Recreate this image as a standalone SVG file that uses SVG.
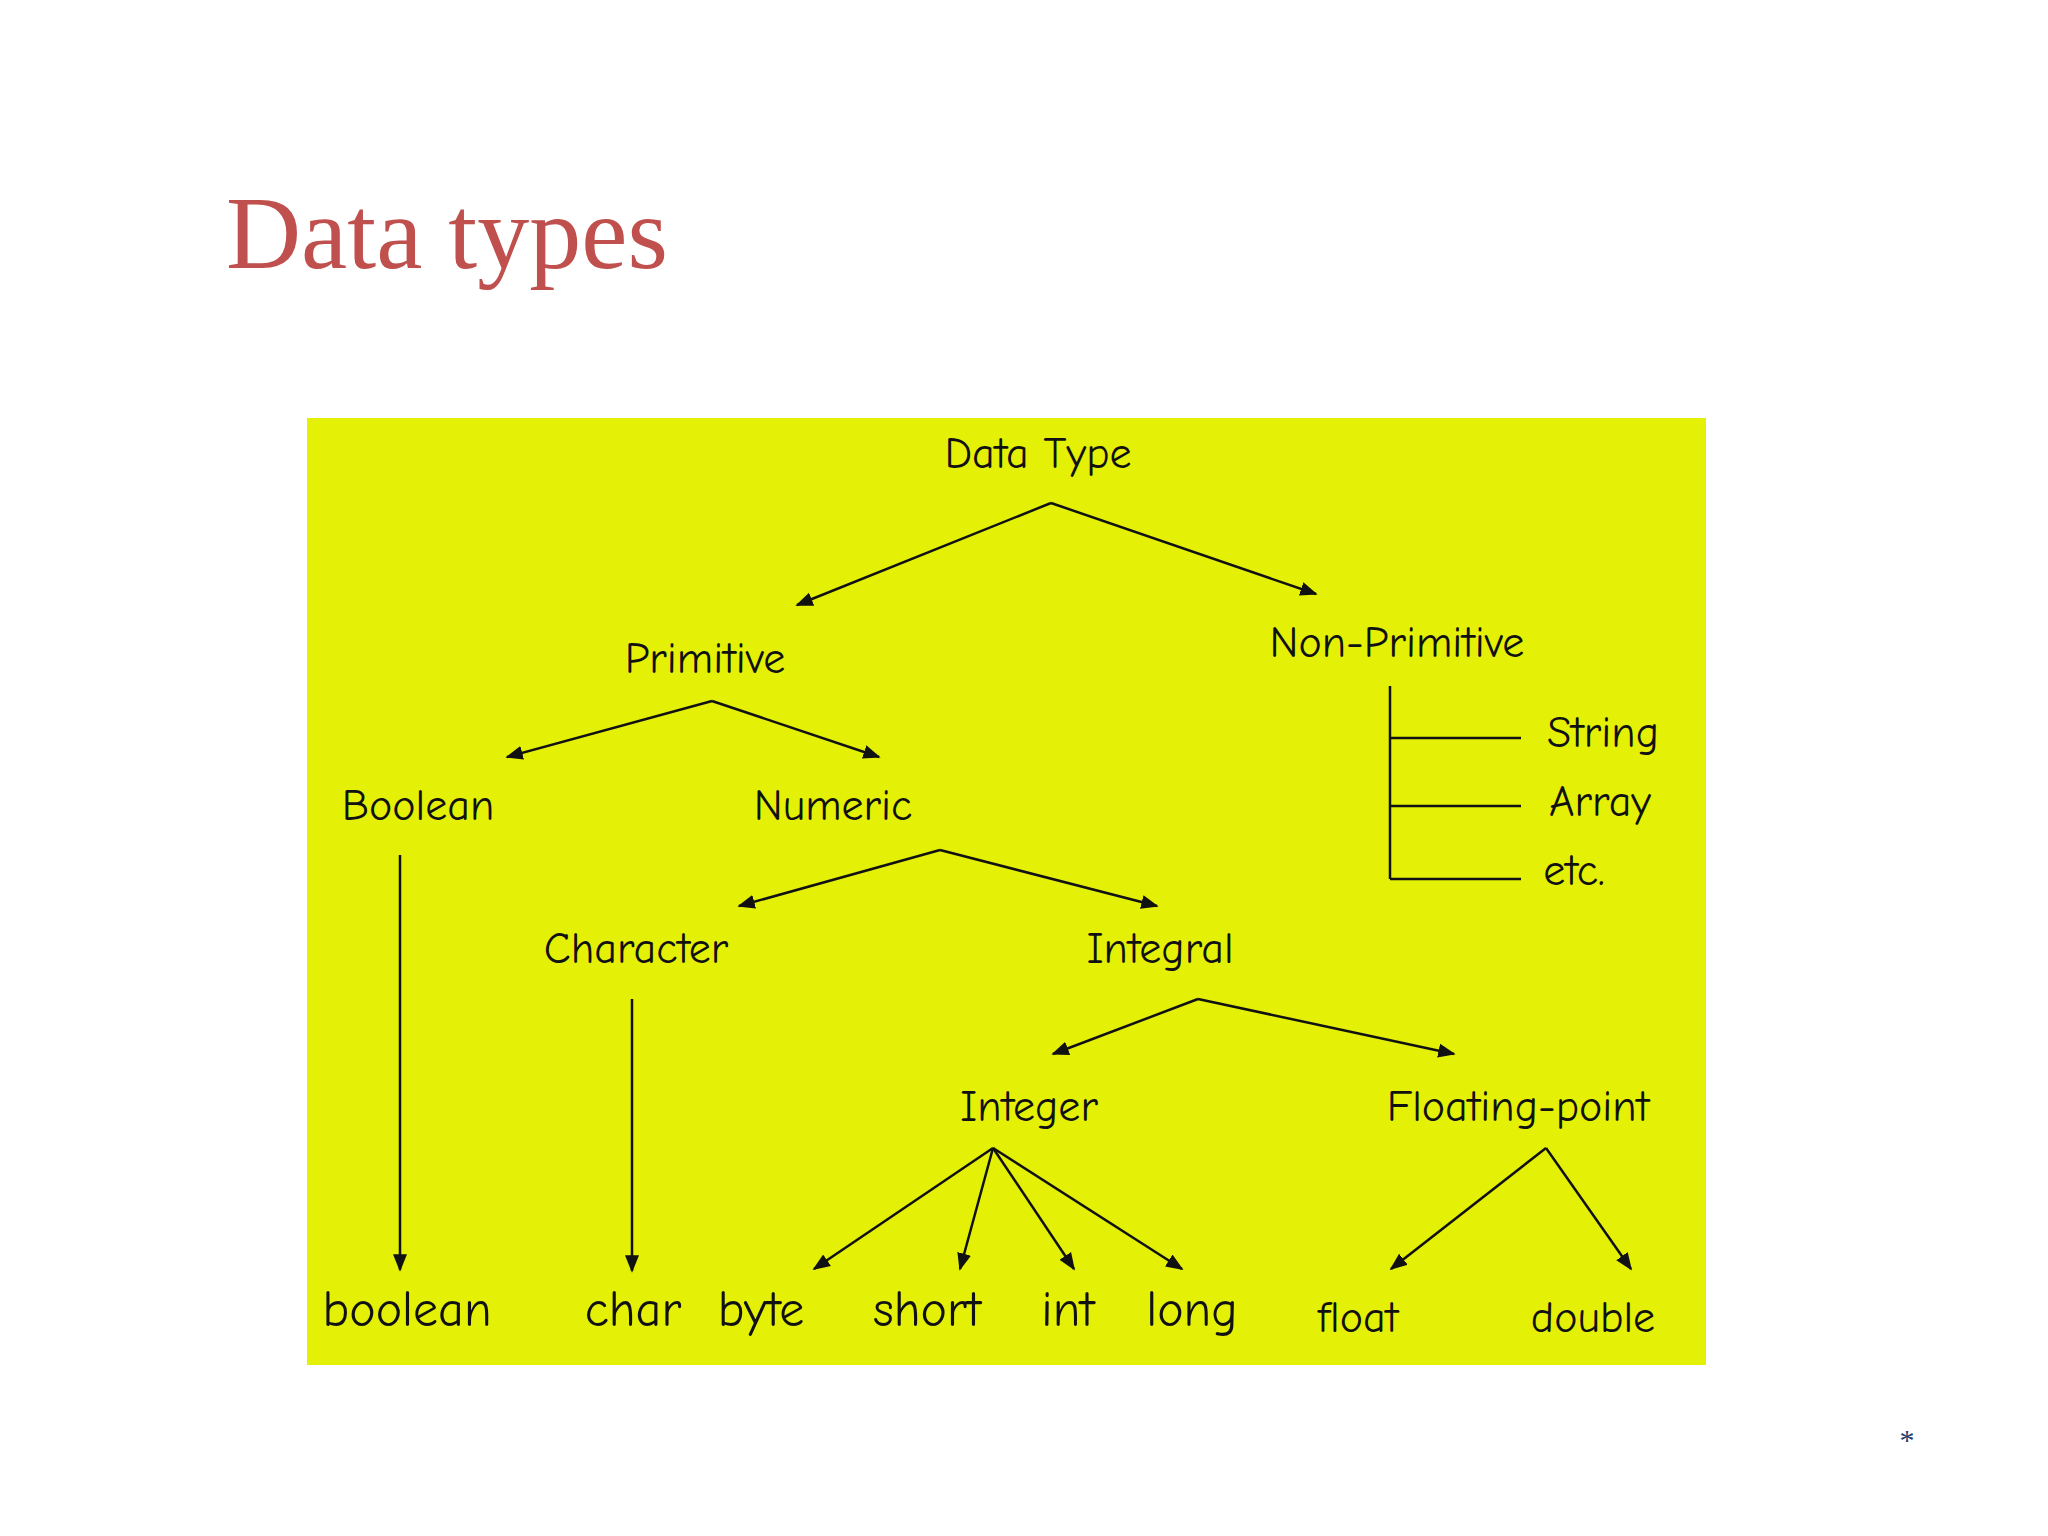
<svg xmlns="http://www.w3.org/2000/svg" width="2048" height="1536" viewBox="0 0 2048 1536">
<defs>
<marker id="ah" viewBox="0 0 10 10" refX="9" refY="5" markerWidth="7" markerHeight="7" orient="auto-start-reverse"><path d="M0,1 L10,5 L0,9 z" fill="#111"/></marker>
<style>
.n{font-family:"Comic Neue","DejaVu Sans",sans-serif;font-size:44px;fill:#111;text-anchor:middle}
.b{font-size:50px}
.l{stroke:#111;stroke-width:2.5;fill:none}
.a{marker-end:url(#ah)}
</style>
</defs>
<rect width="2048" height="1536" fill="#fff"/>
<text x="226" y="268" font-family="Liberation Serif,serif" font-size="104" fill="#c0504d">Data types</text>
<text x="1907" y="1450" font-family="Liberation Serif,serif" font-size="30" fill="#1f3a6e" text-anchor="middle">*</text>
<rect x="307" y="418" width="1399" height="947" fill="#e4f006"/>
<g id="connectors">
<path class="l a" d="M1051,503 L797,605"/><path class="l a" d="M1051,503 L1316,594"/>
<path class="l a" d="M712,701 L507,757"/><path class="l a" d="M712,701 L879,757"/>
<path class="l a" d="M400,855 L400,1270"/>
<path class="l a" d="M940,850 L739,906"/><path class="l a" d="M940,850 L1157,906"/>
<path class="l a" d="M632,999 L632,1271"/>
<path class="l a" d="M1198,999 L1053,1054"/><path class="l a" d="M1198,999 L1454,1054"/>
<path class="l a" d="M993,1148 L814,1269"/><path class="l a" d="M993,1148 L960,1269"/><path class="l a" d="M993,1148 L1074,1269"/><path class="l a" d="M993,1148 L1182,1269"/>
<path class="l a" d="M1546,1148 L1391,1269"/><path class="l a" d="M1546,1148 L1631,1269"/>
<path class="l" d="M1390,686 L1390,879 M1390,738 L1521,738 M1390,806 L1521,806 M1390,879 L1521,879"/>
</g>
<g id="n-datatype"><text class="n" x="1038" y="468">Data Type</text></g>
<g id="n-primitive"><text class="n" x="705" y="673">Primitive</text></g>
<g id="n-nonprimitive"><text class="n" x="1397" y="657">Non-Primitive</text></g>
<g id="n-string"><text class="n" x="1603" y="747">String</text></g>
<g id="n-array"><text class="n" x="1600" y="816">Array</text></g>
<g id="n-etc"><text class="n" x="1574" y="885">etc.</text></g>
<g id="n-boolean-cat"><text class="n" x="418" y="820">Boolean</text></g>
<g id="n-numeric"><text class="n" x="833" y="820">Numeric</text></g>
<g id="n-character"><text class="n" x="636" y="963">Character</text></g>
<g id="n-integral"><text class="n" x="1160" y="963">Integral</text></g>
<g id="n-integer"><text class="n" x="1029" y="1121">Integer</text></g>
<g id="n-floating"><text class="n" x="1518" y="1121">Floating-point</text></g>
<g id="n-boolean"><text class="n b" x="407" y="1326">boolean</text></g>
<g id="n-char"><text class="n b" x="633" y="1326">char</text></g>
<g id="n-byte"><text class="n b" x="761" y="1326">byte</text></g>
<g id="n-short"><text class="n b" x="927" y="1326">short</text></g>
<g id="n-int"><text class="n b" x="1068" y="1326">int</text></g>
<g id="n-long"><text class="n b" x="1192" y="1326">long</text></g>
<g id="n-float"><text class="n" x="1358" y="1332">float</text></g>
<g id="n-double"><text class="n" x="1593" y="1332">double</text></g>
</svg>
